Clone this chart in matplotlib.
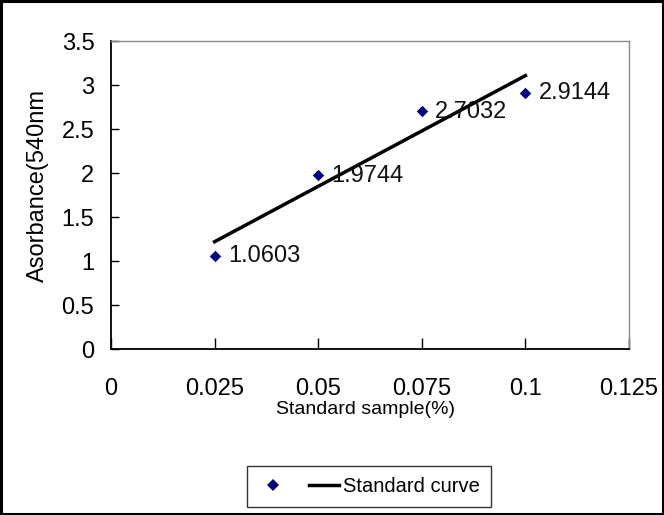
import matplotlib
matplotlib.use("Agg")
import matplotlib.pyplot as plt
from matplotlib.lines import Line2D
from matplotlib.patches import Rectangle
import numpy as np

# Data
concentration = [0.025, 0.05, 0.075, 0.1]
absorbance = [1.0603, 1.9744, 2.7032, 2.9144]
point_labels = ["1.0603", "1.9744", "2.7032", "2.9144"]
x_ticks = [0, 0.025, 0.05, 0.075, 0.1, 0.125]
x_ticklabels = ["0", "0.025", "0.05", "0.075", "0.1", "0.125"]
y_ticks = [0, 0.5, 1, 1.5, 2, 2.5, 3, 3.5]
y_ticklabels = ["0", "0.5", "1", "1.5", "2", "2.5", "3", "3.5"]
x_title = "Standard sample(%)"
y_title = "Asorbance(540nm"
legend_label = "Standard curve"

fam = ["Liberation Sans", "DejaVu Sans"]

fig = plt.figure(figsize=(6.64, 5.15), dpi=100)
fig.patches.append(Rectangle((0.002, 0.002), 0.996, 0.996, transform=fig.transFigure,
                             fill=False, edgecolor="black", linewidth=2.2, zorder=10))

ax = fig.add_axes([111/664, 1-349/515, (629-111)/664, (349-41)/515])

ax.scatter(concentration, absorbance, marker="D", s=34, color="#000080", zorder=3, linewidths=0)

slope, intercept = np.polyfit(concentration, absorbance, 1)
xf = np.array([concentration[0], concentration[-1]])
ax.plot(xf, slope*xf + intercept, color="black", linewidth=2.5, zorder=2)

for xv, yv, lab in zip(concentration, absorbance, point_labels):
    ax.annotate(lab, (xv, yv), xytext=(9.5, -0.5), textcoords="offset points",
                ha="left", va="center", fontsize=17, family=fam, color="#111111")

ax.set_xlim(0, 0.125)
ax.set_ylim(0, 3.5)
ax.set_xticks(x_ticks)
ax.set_xticklabels(x_ticklabels, family=fam, fontsize=17)
ax.set_yticks(y_ticks)
ax.set_yticklabels(y_ticklabels, family=fam, fontsize=17)
ax.tick_params(axis="x", direction="in", length=8, width=1, pad=21, color="black")
ax.tick_params(axis="y", direction="in", length=6, width=1, pad=12, color="black")

for s in ["top", "right"]:
    ax.spines[s].set_color("#888888")
    ax.spines[s].set_linewidth(1)
for s in ["left", "bottom"]:
    ax.spines[s].set_color("black")
    ax.spines[s].set_linewidth(1.3)

fig.text(366/664, 1-410/515, x_title, ha="center", va="center", fontsize=14, family=fam)
fig.text(38/664, 1-185/515, y_title, ha="center", va="center", rotation=90, fontsize=17, family=fam)

h1 = Line2D([], [], marker="D", color="#000080", linestyle="none", markersize=6, markeredgewidth=0)
h2 = Line2D([], [], color="black", linewidth=2.5)
leg = fig.legend([h1, h2], ["", legend_label], loc="center", bbox_to_anchor=(369/664, 1-486.5/515),
                 ncol=2, frameon=True, fancybox=False, edgecolor="black",
                 prop={"family": fam, "size": 14.5}, handlelength=1.5, columnspacing=0.8,
                 handletextpad=0.2, borderpad=0.55)
leg.get_frame().set_linewidth(1)

fig.savefig("out.png", dpi=100)
